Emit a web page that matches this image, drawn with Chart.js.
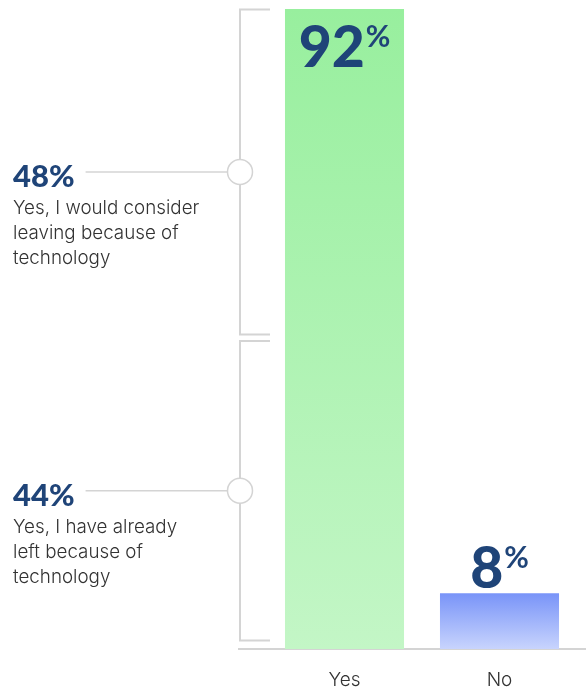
<!DOCTYPE html>
<html>
<head>
<meta charset="utf-8">
<script src="https://cdn.jsdelivr.net/npm/chart.js@4.4.1/dist/chart.umd.min.js"></script>
<style>
    html, body { margin: 0; padding: 0; background: #fff; }
    #wrap { width: 586px; height: 690px; }
</style>
</head>
<body>
<div id="wrap"><canvas id="myChart" width="586" height="690"></canvas></div>
<script>
// answers and their share of respondents
const answers = ['Yes', 'No'];
const shares = [92, 8];

// how the "Yes" answers split up
const yesParts = [48, 44];
const yesPartLabels = [
    ['Yes, I would consider', 'leaving because of', 'technology'],
    ['Yes, I have already', 'left because of', 'technology']
];

const barTopColors = ['#98ef9e', '#7994f8'];
const barBottomColors = ['#c3f6c6', '#c8d4fd'];
const navy = '#1f4478';
const grey = '#d4d4d4';
const textColor = '#333333';


function barGradient(context) {
    const chart = context.chart;
    const { chartArea, scales } = chart;
    if (!chartArea) return barTopColors[context.dataIndex];
    const i = context.dataIndex;
    const top = scales.y.getPixelForValue(shares[i]);
    const bottom = scales.y.getPixelForValue(0);
    const g = chart.ctx.createLinearGradient(0, top, 0, bottom);
    g.addColorStop(0, barTopColors[i]);
    g.addColorStop(1, barBottomColors[i]);
    return g;
}


// big "92%" style labels, number with a raised percent sign
const valueLabels = {
    id: 'valueLabels',
    afterDatasetsDraw(chart) {
        const ctx = chart.ctx;
        const meta = chart.getDatasetMeta(0);
        ctx.save();
        ctx.fillStyle = navy;
        ctx.textBaseline = 'alphabetic';
        meta.data.forEach((bar, i) => {
            const num = String(shares[i]);
            ctx.font = '900 57px Lato';
            const wNum = ctx.measureText(num).width;
            ctx.font = 'bold 30px Lato';
            const wPct = ctx.measureText('%').width;
            const total = wNum + 1 + wPct;
            const left = bar.x - total / 2;
            const base = bar.y < 80 ? bar.y + 58 : bar.y - 5;
            ctx.textAlign = 'left';
            ctx.font = '900 57px Lato';
            ctx.fillText(num, left, base);
            ctx.font = 'bold 30px Lato';
            ctx.fillText('%', left + wNum + 1, base - 20);
        });
        ctx.restore();
    }
};


// baseline, brackets and the notes on the left
const breakdown = {
    id: 'breakdown',
    beforeDatasetsDraw(chart) {
        const ctx = chart.ctx;
        const y = chart.scales.y;
        const area = chart.chartArea;
        const bx = 240;
        const tickEnd = 270;
        const r = 12.5;

        ctx.save();
        ctx.strokeStyle = grey;
        ctx.lineWidth = 2;
        ctx.beginPath();
        ctx.moveTo(238, area.bottom);
        ctx.lineTo(586, area.bottom);
        ctx.stroke();

        let top = shares[0];
        yesParts.forEach((part, i) => {
            const bottom = top - part;
            const y1 = y.getPixelForValue(top) + (i === 0 ? 0.5 : -2);
            const y2 = y.getPixelForValue(bottom) - 8.5;
            const cy = (y1 + y2) / 2;

            ctx.strokeStyle = grey;
            ctx.lineWidth = 2;
            ctx.beginPath();
            ctx.moveTo(tickEnd, y1);
            ctx.lineTo(bx, y1);
            ctx.lineTo(bx, y2);
            ctx.lineTo(tickEnd, y2);
            ctx.stroke();

            // share of this part
            ctx.fillStyle = navy;
            ctx.font = '900 31px Lato';
            ctx.textAlign = 'left';
            ctx.textBaseline = 'alphabetic';
            const txt = part + '%';
            ctx.fillText(txt, 13, cy + 15);
            const tw = ctx.measureText(txt).width;

            ctx.lineWidth = 1.5;
            ctx.beginPath();
            ctx.moveTo(13 + tw + 11, cy);
            ctx.lineTo(bx - r, cy);
            ctx.stroke();

            ctx.beginPath();
            ctx.arc(bx, cy, r, 0, Math.PI * 2);
            ctx.fillStyle = '#fff';
            ctx.fill();
            ctx.stroke();

            ctx.fillStyle = textColor;
            ctx.font = '300 18.8px Inter';
            yesPartLabels[i].forEach((line, k) => {
                ctx.fillText(line, 13, cy + 42 + k * 25);
            });

            top = bottom;
        });
        ctx.restore();
    }
};


new Chart(document.getElementById('myChart'), {
    type: 'bar',
    data: {
        labels: answers,
        datasets: [{
            data: shares,
            backgroundColor: barGradient,
            borderWidth: 0,
            barPercentage: 0.768,
            categoryPercentage: 1
        }]
    },
    options: {
        responsive: false,
        animation: false,
        layout: { padding: { top: 9, left: 267, right: 9, bottom: 0 } },
        scales: {
            x: {
                grid: { display: false, drawTicks: false },
                border: { display: false },
                ticks: {
                    color: textColor,
                    font: { family: 'Inter', size: 19, weight: '300' },
                    padding: 20
                },
                afterFit(scale) { scale.height = 41; }
            },
            y: {
                display: false,
                min: 0,
                max: 92
            }
        },
        plugins: {
            legend: { display: false },
            tooltip: { enabled: false }
        }
    },
    plugins: [breakdown, valueLabels]
});
</script>
</body>
</html>
